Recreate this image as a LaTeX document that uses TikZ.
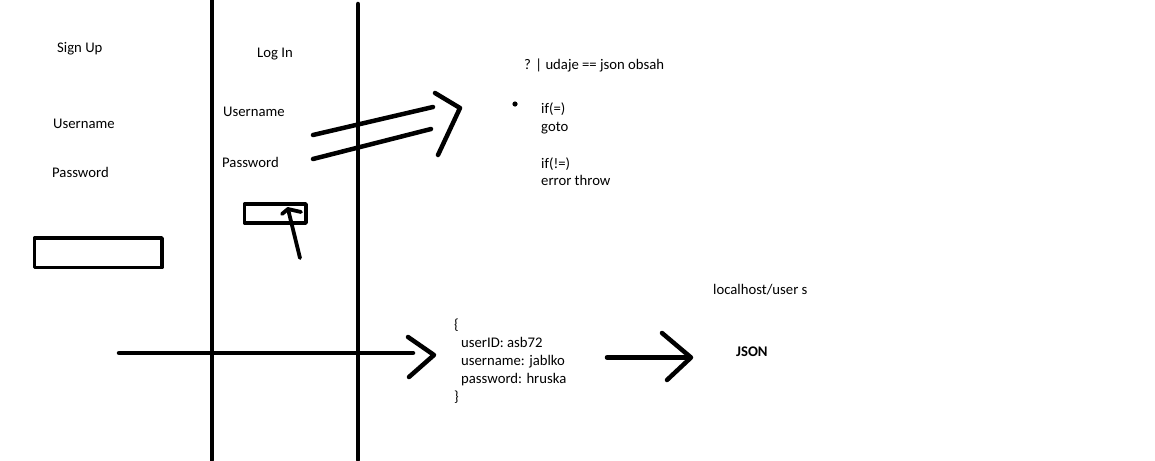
\documentclass[tikz,border=0pt]{standalone}
\usepackage{fontspec}
\setmainfont{Carlito}
\begin{document}
\begin{tikzpicture}[x=1pt,y=-1pt,line cap=round,line join=round,
  stroke/.style={line width=4.5pt},
  thin stroke/.style={line width=3.8pt},
  lbl/.style={anchor=base west,inner sep=0pt,font=\fontsize{14.7}{18}\selectfont},
  bold lbl/.style={lbl,font=\fontsize{14.7}{18}\selectfont\bfseries}]
\useasboundingbox (0,0) rectangle (1155,460);
% vertical dividers
\coordinate (v1t) at (212,0);   \coordinate (v1b) at (212,460);
\coordinate (v2t) at (358,4);   \coordinate (v2b) at (358,460);
\draw[stroke] (v1t) -- (v1b);
\draw[stroke] (v2t) -- (v2b);
% sign up column
\node[lbl] (signup) at (57,52.5) {Sign Up};
\node[lbl] (user1) at (53,128) {Username};
\node[lbl] (pass1) at (52,177) {Password};
\draw[thin stroke,line cap=butt] (34.5,238) rectangle (162,267.5);
% log in column
\node[lbl] (login) at (257,58) {Log In};
\node[lbl] (user2) at (223,116) {Username};
\node[lbl] (pass2) at (222,167) {Password};
\draw[thin stroke,line cap=butt] (244.5,204) rectangle (306,223);
\coordinate (btnTail) at (300,258);
\coordinate (btnTip) at (288,209);
\draw[thin stroke] (btnTail) -- (btnTip);
\draw[thin stroke] (282,214) -- (btnTip) -- (301,212);
% double arrow to check
\coordinate (d1a) at (313,135); \coordinate (d1b) at (433,107);
\coordinate (d2a) at (313,159); \coordinate (d2b) at (431,129);
\draw[stroke] (d1a) -- (d1b);
\draw[stroke] (d2a) -- (d2b);
\coordinate (chev1) at (460,108);
\draw[stroke] (435,93) -- (chev1) -- (438,155);
\fill (515,104) circle (2.6);
\node[lbl] (check) at (524,70) {? | udaje == json obsah};
\node[lbl] (if1) at (541,113) {if(=)};
\node[lbl] (goto) at (541,131) {goto};
\node[lbl] (if2) at (541,168) {if(!=)};
\node[lbl] (err) at (541,185.5) {error throw};
% bottom flow
\coordinate (h1) at (119,353); \coordinate (h2) at (413,353);
\draw[stroke] (h1) -- (h2);
\coordinate (chev2) at (434,355);
\draw[stroke] (408,337) -- (chev2) -- (409,377);
\node[lbl] (ob) at (454,329) {\{};
\node[lbl] (uid) at (461,347.5) {userID: asb72};
\node[lbl] (uname) at (461,365.5) {username: jablko};
\node[lbl] (pwd) at (461,383.5) {password: hruska};
\node[lbl] (cb) at (454,401) {\}};
\coordinate (h3) at (607,357.5); \coordinate (h4) at (690,357.5);
\draw[stroke] (h3) -- (h4);
\coordinate (chev3) at (691,357.5);
\draw[stroke] (662,333) -- (chev3) -- (667,380);
\node[lbl] (url) at (713,294) {localhost/user s};
\node[bold lbl] (json) at (736,356) {JSON};
\end{tikzpicture}
\end{document}
